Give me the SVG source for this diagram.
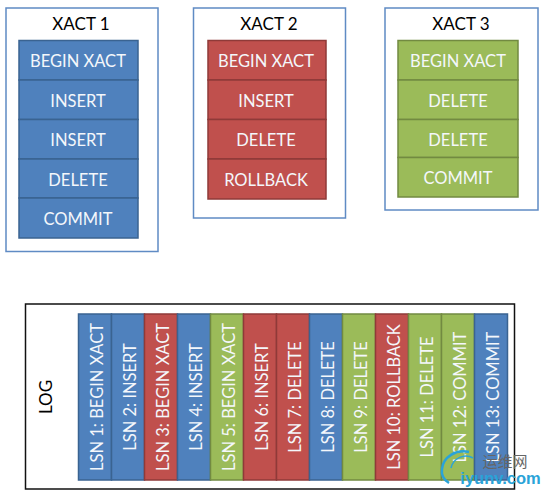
<svg xmlns="http://www.w3.org/2000/svg" width="544" height="495" viewBox="0 0 544 495">
<style>
text{font-family:Lato,"Liberation Sans","Noto Sans CJK SC",sans-serif;text-anchor:middle}
.frame{fill:#fff;stroke:#5f8bc4;stroke-width:1.5}
.log{fill:#fff;stroke:#111;stroke-width:1.5}
.title{font-size:17px;fill:#000}
.b{fill:#4f81bd;stroke:#3a6391;stroke-width:1.5}
.r{fill:#c0504d;stroke:#8f3a38;stroke-width:1.5}
.g{fill:#9bbb59;stroke:#728a41;stroke-width:1.5}
.t{font-size:16.500px;fill:#f4f7fb}
.v{font-size:16.500px;fill:#f4f7fb}
.mark{fill:none;stroke:#2aa3d8;stroke-width:2.5}
</style>
<g id="xact1">
<rect class="frame" x="6" y="8" width="152" height="243.500"/>
<text class="title" x="81" y="30">XACT 1</text>
<rect class="b" x="19" y="40.500" width="119" height="39.500"/><text class="t" x="78" y="67">BEGIN XACT</text>
<rect class="b" x="19" y="80" width="119" height="39.500"/><text class="t" x="78" y="106.500">INSERT</text>
<rect class="b" x="19" y="119.500" width="119" height="39.500"/><text class="t" x="78" y="146">INSERT</text>
<rect class="b" x="19" y="159" width="119" height="39"/><text class="t" x="78" y="185.500">DELETE</text>
<rect class="b" x="19" y="198" width="119" height="40"/><text class="t" x="78" y="224.500">COMMIT</text>
</g>
<g id="xact2">
<rect class="frame" x="193.500" y="8" width="152" height="210"/>
<text class="title" x="269" y="30">XACT 2</text>
<rect class="r" x="208" y="40.500" width="118" height="39.500"/><text class="t" x="266" y="67">BEGIN XACT</text>
<rect class="r" x="208" y="80" width="118" height="39.500"/><text class="t" x="266" y="106.500">INSERT</text>
<rect class="r" x="208" y="119.500" width="118" height="39.500"/><text class="t" x="266" y="146">DELETE</text>
<rect class="r" x="208" y="159" width="118" height="40"/><text class="t" x="266" y="185.500">ROLLBACK</text>
</g>
<g id="xact3">
<rect class="frame" x="385" y="8" width="153" height="202"/>
<text class="title" x="461" y="30">XACT 3</text>
<rect class="g" x="398" y="40.500" width="120" height="39.500"/><text class="t" x="458" y="67">BEGIN XACT</text>
<rect class="g" x="398" y="80" width="120" height="39.500"/><text class="t" x="458" y="106.500">DELETE</text>
<rect class="g" x="398" y="119.500" width="120" height="38"/><text class="t" x="458" y="146">DELETE</text>
<rect class="g" x="398" y="157.500" width="120" height="39.500"/><text class="t" x="458" y="183.500">COMMIT</text>
</g>
<g id="log">
<rect class="log" x="25.500" y="304" width="489" height="185"/>
<text class="title" transform="translate(52,397) rotate(-90)">LOG</text>
<rect class="b" x="78.500" y="314" width="33" height="166"/><text class="v" transform="translate(102.500,397) rotate(-90)">LSN 1: BEGIN XACT</text>
<rect class="b" x="111.500" y="314" width="33" height="166"/><text class="v" transform="translate(135.500,397) rotate(-90)">LSN 2: INSERT</text>
<rect class="r" x="144.500" y="314" width="33" height="166"/><text class="v" transform="translate(168.500,397) rotate(-90)">LSN 3: BEGIN XACT</text>
<rect class="b" x="177.500" y="314" width="33" height="166"/><text class="v" transform="translate(201.500,397) rotate(-90)">LSN 4: INSERT</text>
<rect class="g" x="210.500" y="314" width="33" height="166"/><text class="v" transform="translate(234.500,397) rotate(-90)">LSN 5: BEGIN XACT</text>
<rect class="r" x="243.500" y="314" width="33" height="166"/><text class="v" transform="translate(267.500,397) rotate(-90)">LSN 6: INSERT</text>
<rect class="r" x="276.500" y="314" width="33" height="166"/><text class="v" transform="translate(300.500,397) rotate(-90)">LSN 7: DELETE</text>
<rect class="b" x="309.500" y="314" width="33" height="166"/><text class="v" transform="translate(333.500,397) rotate(-90)">LSN 8: DELETE</text>
<rect class="g" x="342.500" y="314" width="33" height="166"/><text class="v" transform="translate(366.500,397) rotate(-90)">LSN 9: DELETE</text>
<rect class="r" x="375.500" y="314" width="33" height="166"/><text class="v" transform="translate(399.500,397) rotate(-90)">LSN 10: ROLLBACK</text>
<rect class="g" x="408.500" y="314" width="33" height="166"/><text class="v" transform="translate(432.500,397) rotate(-90)">LSN 11: DELETE</text>
<rect class="g" x="441.500" y="314" width="33" height="166"/><text class="v" transform="translate(465.500,397) rotate(-90)">LSN 12: COMMIT</text>
<rect class="b" x="474.500" y="314" width="33" height="166"/><text class="v" transform="translate(498.500,397) rotate(-90)">LSN 13: COMMIT</text>
</g>
<g id="watermark">
<path class="mark" d="M469 452 C456 449 443 457 442 469 C441 475 444 480 449 483"/>
<path class="mark" style="stroke-width:1.5" d="M473 458 C465 453 453 458 451 468"/>
<text x="505" y="467" style="font-size:15px;fill:#666;font-family:'Noto Sans CJK SC',sans-serif">运维网</text>
<text x="500.500" y="484" style="font-size:16.500px;font-weight:700;fill:#2aa3d8;font-family:'Liberation Sans',sans-serif">iyunv.com</text>
</g>
</svg>
